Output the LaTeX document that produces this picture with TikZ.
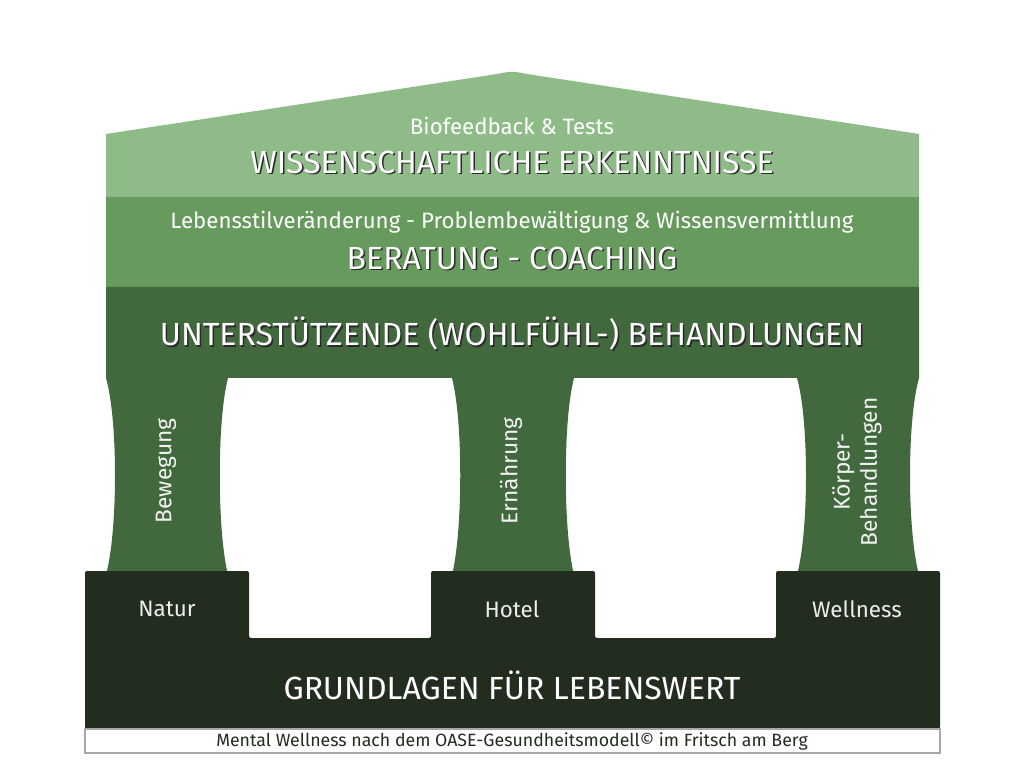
\documentclass[tikz,border=0pt]{standalone}
\usepackage{fontspec}
\setmainfont{Fira Sans}
\newfontfamily\headfont{Fira Sans}
\newfontfamily\subfont{Fira Sans}
\definecolor{roofc}{HTML}{8FBB88}
\definecolor{bandb}{HTML}{679B5D}
\definecolor{bandc}{HTML}{42693D}
\definecolor{basec}{HTML}{222D1F}
\definecolor{capline}{HTML}{A8A8A8}
\definecolor{shadowc}{HTML}{2A2A2A}
\tikzset{
  headtxt/.style={text=white, inner sep=0pt, font=\headfont\fontsize{24}{28}\selectfont},
  headshadow/.style={text=shadowc, inner sep=0pt, font=\headfont\fontsize{24}{28}\selectfont},
  subtxt/.style={text=white, inner sep=0pt, font=\subfont\fontsize{16.7}{20}\selectfont},
  boxtxt/.style={text=white!93!black, inner sep=0pt, font=\subfont\fontsize{16.8}{20}\selectfont},
  coltxt/.style={text=white!95!black, inner sep=0pt, rotate=90, align=center, font=\subfont\fontsize{17}{20.5}\selectfont},
  captxt/.style={text=basec, inner sep=0pt, font=\subfont\fontsize{13.3}{15}\selectfont}
}
\begin{document}
\begin{tikzpicture}[x=0.75pt,y=-0.75pt]
\useasboundingbox (0,0) rectangle (1024,773);
% roof band
\fill[roofc] (106,260) -- (106,134) -- (497,74) .. controls (512,71) .. (527,74) -- (919,134) -- (919,260) -- cycle;
% second band
\fill[bandb] (106,197) rectangle (919,288);
% third band with columns
\fill[bandc] (106,287) -- (919,287) -- (919,378)
  .. controls (907,420) and (907,530) .. (919,575) -- (797,575)
  .. controls (809,530) and (809,420) .. (797,378) -- (574,378)
  .. controls (563,420) and (563,530) .. (574,575) -- (452,575)
  .. controls (463,530) and (463,420) .. (452,378) -- (228,378)
  .. controls (217,420) and (217,530) .. (228,575) -- (106,575)
  .. controls (118,530) and (118,420) .. (106,378) -- cycle;
% base
\fill[basec, rounded corners=1.5pt] (85,571) -- (249,571) -- (249,638) -- (431,638) -- (431,571) -- (595,571) -- (595,638) -- (776,638) -- (776,571) -- (940,571) -- (940,729) -- (85,729) -- cycle;
% caption strip
\draw[capline, line width=0.9pt, fill=white] (85,729) rectangle (940,753);
% texts: roof
\node[subtxt] (bio) at (512,126) {Biofeedback \& Tests};
\node[headshadow] (wissS) at (513.5,163.5) {WISSENSCHAFTLICHE ERKENNTNISSE};
\node[headtxt] (wiss) at (512,162) {WISSENSCHAFTLICHE ERKENNTNISSE};
% second band
\node[subtxt] (leben) at (512,222) {Lebensstilveränderung - Problembewältigung \& Wissensvermittlung};
\node[headshadow] (beraS) at (513.5,259.5) {BERATUNG - COACHING};
\node[headtxt] (bera) at (512,258) {BERATUNG - COACHING};
% third band
\node[headshadow] (untS) at (513.5,335.5) {UNTERSTÜTZENDE (WOHLFÜHL-) BEHANDLUNGEN};
\node[headtxt] (unt) at (512,334) {UNTERSTÜTZENDE (WOHLFÜHL-) BEHANDLUNGEN};
% columns
\node[coltxt] (bew) at (166,471) {Bewegung};
\node[coltxt] (ern) at (511,471) {Ernährung};
\node[coltxt] (koe) at (857,472) {Körper-\\Behandlungen};
% boxes
\node[boxtxt] (natur) at (167,609) {Natur};
\node[boxtxt] (hotel) at (512,609) {Hotel};
\node[boxtxt] (well) at (857,609) {Wellness};
% base heading
\node[headshadow] (grundS) at (513.5,686.5) {GRUNDLAGEN FÜR LEBENSWERT};
\node[headtxt] (grund) at (512,685) {GRUNDLAGEN FÜR LEBENSWERT};
% caption
\node[captxt] (cap) at (512,741) {Mental Wellness nach dem OASE-Gesundheitsmodell© im Fritsch am Berg};
\end{tikzpicture}
\end{document}
